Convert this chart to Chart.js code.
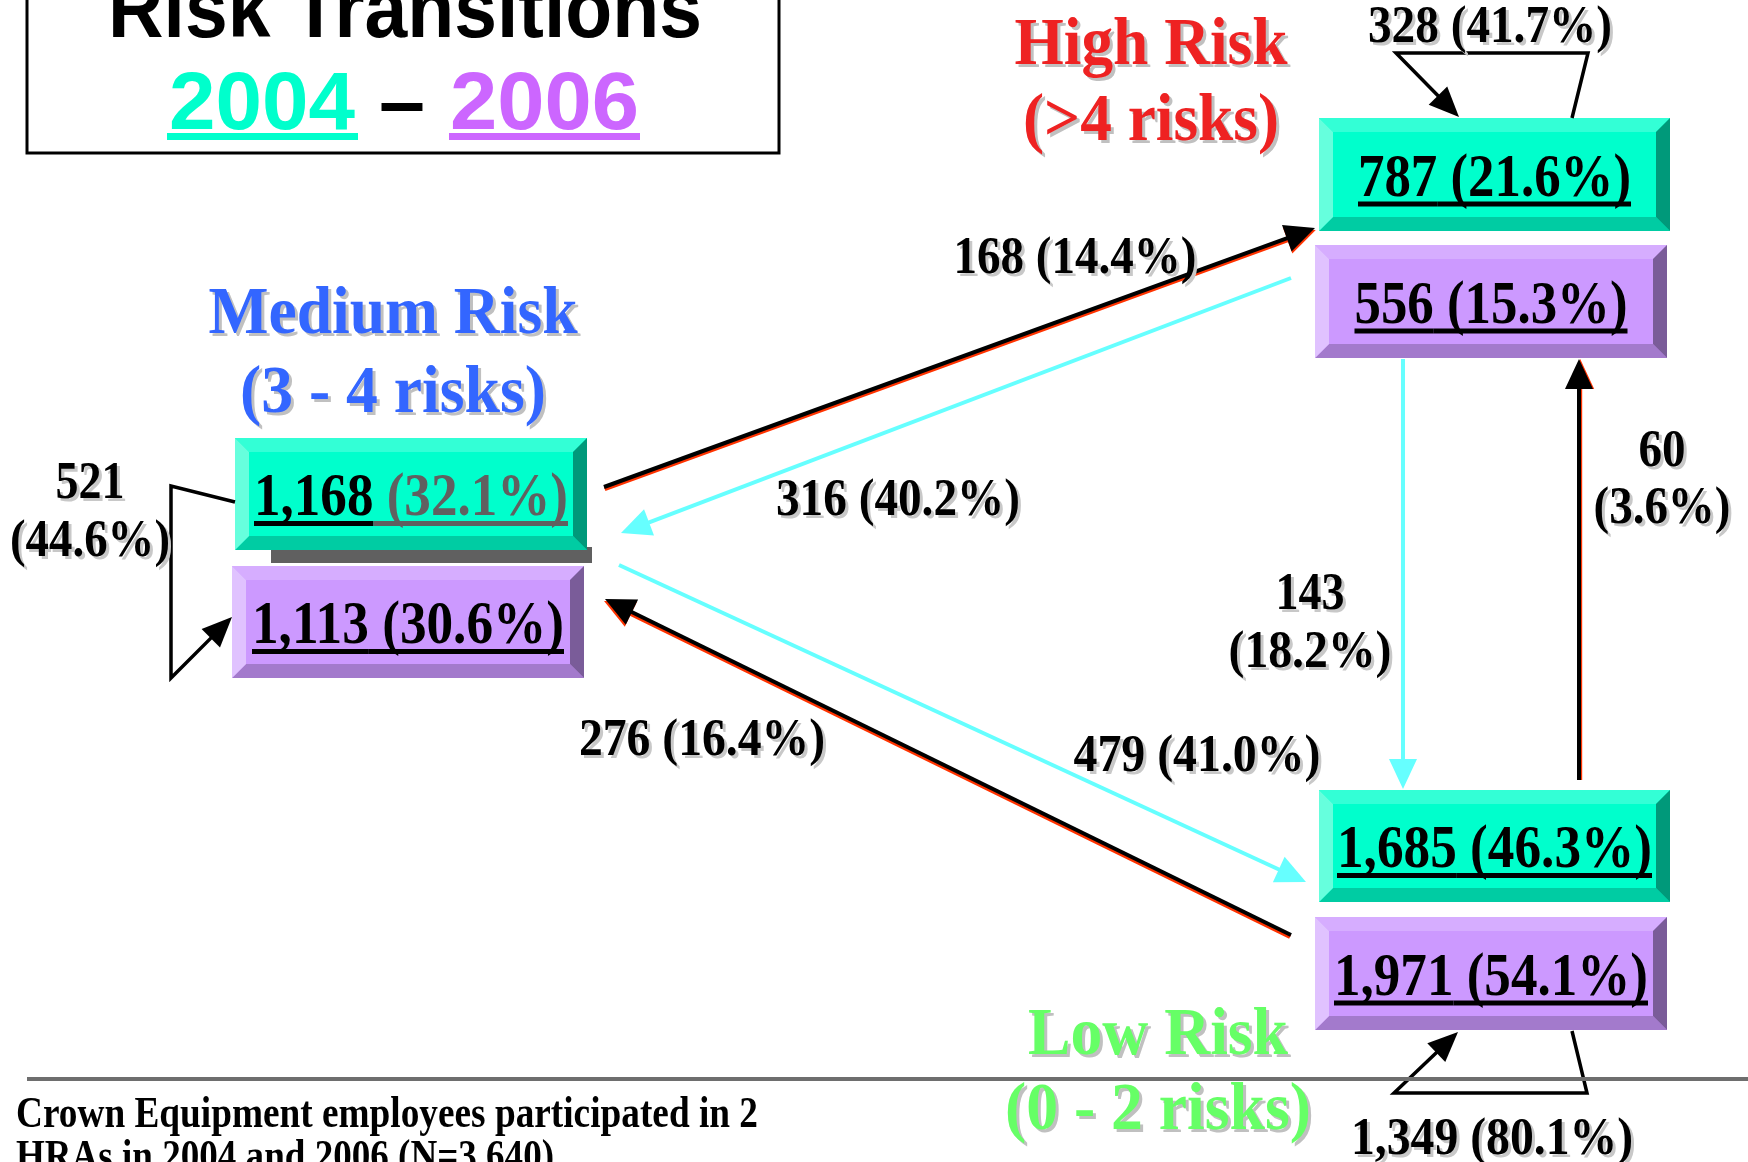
<!DOCTYPE html>
<html>
<head>
<meta charset="utf-8">
<script src="https://cdn.jsdelivr.net/npm/chart.js@4.4.1/dist/chart.umd.min.js"></script>
<style>
  html, body { margin: 0; padding: 0; background: #ffffff; overflow: hidden; }
  #wrap { width: 1748px; height: 1162px; }
</style>
</head>
<body>
<div id="wrap"><canvas id="c" width="1748" height="1162"></canvas></div>
<script>
// Risk groups and their member counts in each survey year
const groupNames  = ['High Risk', 'Medium Risk', 'Low Risk'];
const groupRanges = ['(>4 risks)', '(3 - 4 risks)', '(0 - 2 risks)'];
const surveyYears = ['2004', '2006'];
const counts2004  = [787, 1168, 1685];
const shares2004  = [21.6, 32.1, 46.3];
const counts2006  = [556, 1113, 1971];
const shares2006  = [15.3, 30.6, 54.1];

// Movements between groups: 2004 group -> 2006 group (share of the 2004 group)
const moveFrom   = [0, 0, 0, 1, 1, 1, 2, 2, 2];
const moveTo     = [0, 1, 2, 0, 1, 2, 0, 1, 2];
const moveCounts = [328, 316, 143, 168, 521, 479, 60, 276, 1349];
const moveShares = [41.7, 40.2, 18.2, 14.4, 44.6, 41.0, 3.6, 16.4, 80.1];

const pageTitle  = 'Risk Transitions';
const footNote   = ['Crown Equipment employees participated in 2', 'HRAs in 2004 and 2006 (N=3,640)'];
const pageNumber = '16';

// ---------- layout (drawing units = canvas pixels on a 1748 x 1162 plane) ----------
const PLANE_W = 1748, PLANE_H = 1162;
const SERIF = '"Liberation Serif", "Times New Roman", serif';
const SANS  = '"Liberation Sans", Arial, sans-serif';

// [left, top, right, bottom] for the 2004 box and the 2006 box of each group
const boxRects = [
  [[1319, 118, 1670, 231], [1315, 245, 1667, 358]],
  [[235, 438, 587, 550],   [232, 566, 584, 678]],
  [[1319, 790, 1670, 902], [1315, 917, 1667, 1030]]
];
const boxTextWidth = [[273, 273], [314, 312], [315, 314]];
const boxShareColor = [['#000000', '#000000'], ['#606060', '#000000'], ['#000000', '#000000']];
const yearPalette = [
  { face: '#00ffcc', top: '#33ffd6', left: '#66ffdd', right: '#00997a', bottom: '#00cca3' },
  { face: '#cc99ff', top: '#d6adff', left: '#e0c2ff', right: '#7a5c99', bottom: '#a37acc' }
];
const yearColor = ['#00ffcc', '#cc66ff'];

const groupLabel = [
  { x: 1151, y: [64, 140],   w: [273, 256], color: '#ee2222' },
  { x: 393,  y: [333, 412],  w: [369, 306], color: '#3366ff' },
  { x: 1158, y: [1054, 1129], w: [260, 306], color: '#66ff66' }
];

// route of every movement arrow and where its label sits
const moveRoute = [
  { kind: 'loop',  pts: [[1572, 118], [1588, 53], [1396, 53], [1459, 117]],   label: { x: 1490, y: [42],  w: [244] } },
  { kind: 'cyan',  pts: [[1291, 278], [621, 533]],                            label: { x: 898,  y: [515], w: [244] } },
  { kind: 'cyan',  pts: [[1403, 359], [1403, 789]],                           label: { x: 1310, y: [609, 667], w: [69, 163] } },
  { kind: 'black', pts: [[604, 487], [1315, 228]],                            label: { x: 1075, y: [273], w: [243] } },
  { kind: 'loop',  pts: [[235, 502], [171, 486], [171, 678], [232, 617]],    label: { x: 90,   y: [498, 556], w: [69, 160] } },
  { kind: 'cyan',  pts: [[619, 565], [1306, 882]],                            label: { x: 1197, y: [771], w: [247] } },
  { kind: 'black', pts: [[1579, 780], [1579, 359]],                           label: { x: 1662, y: [466, 523], w: [47, 137] } },
  { kind: 'black', pts: [[1291, 935], [605, 599]],                            label: { x: 702,  y: [755], w: [246] } },
  { kind: 'loop',  pts: [[1572, 1031], [1587, 1093], [1394, 1093], [1458, 1032]], label: { x: 1492, y: [1154], w: [282] } }
];

const fmtCount = n => n.toLocaleString('en-US');
const fmtShare = p => '(' + p.toFixed(1) + '%)';

// ---------- drawing helpers ----------
function fitText(ctx, str, x, y, size, width, o) {
  ctx.font = 'bold ' + size + 'px ' + (o.family || SERIF);
  const m = ctx.measureText(str).width;
  const sx = width ? width / m : 1;
  ctx.save();
  ctx.translate(x, y);
  ctx.scale(sx, 1);
  ctx.textAlign = o.align || 'center';
  ctx.textBaseline = 'alphabetic';
  if (o.shadow) {
    ctx.fillStyle = o.shadow;
    ctx.fillText(str, (o.sd || 3) / sx, o.sd || 3);
  }
  ctx.fillStyle = o.color || '#000';
  ctx.fillText(str, 0, 0);
  ctx.restore();
}

function poly(ctx, pts, fill) {
  ctx.beginPath();
  ctx.moveTo(pts[0][0], pts[0][1]);
  for (let i = 1; i < pts.length; i++) ctx.lineTo(pts[i][0], pts[i][1]);
  ctx.closePath();
  ctx.fillStyle = fill;
  ctx.fill();
}

function bevelBox(ctx, l, t, r, b, pal, bw) {
  ctx.fillStyle = pal.face;
  ctx.fillRect(l, t, r - l, b - t);
  poly(ctx, [[l, t], [r, t], [r - bw, t + bw], [l + bw, t + bw]], pal.top);
  poly(ctx, [[l, b], [r, b], [r - bw, b - bw], [l + bw, b - bw]], pal.bottom);
  poly(ctx, [[l, t], [l + bw, t + bw], [l + bw, b - bw], [l, b]], pal.left);
  poly(ctx, [[r, t], [r - bw, t + bw], [r - bw, b - bw], [r, b]], pal.right);
}

function head(ctx, tip, from, len, half, color) {
  const dx = tip[0] - from[0], dy = tip[1] - from[1];
  const d = Math.hypot(dx, dy), ux = dx / d, uy = dy / d;
  const bx = tip[0] - ux * len, by = tip[1] - uy * len;
  poly(ctx, [tip, [bx - uy * half, by + ux * half], [bx + uy * half, by - ux * half]], color);
}

function segLine(ctx, pts, color, width) {
  ctx.beginPath();
  ctx.moveTo(pts[0][0], pts[0][1]);
  for (let i = 1; i < pts.length; i++) ctx.lineTo(pts[i][0], pts[i][1]);
  ctx.strokeStyle = color;
  ctx.lineWidth = width;
  ctx.lineJoin = 'miter';
  ctx.lineCap = 'butt';
  ctx.stroke();
}

function straightArrow(ctx, a, b, color, width, len, half, edge) {
  const dx = b[0] - a[0], dy = b[1] - a[1];
  const d = Math.hypot(dx, dy), ux = dx / d, uy = dy / d;
  const end = [b[0] - ux * (len - 2), b[1] - uy * (len - 2)];
  if (edge) {
    // thin red rim running along the lower side of the dark arrows
    let px = -uy, py = ux;
    if (py < 0 || (py === 0 && px < 0)) { px = -px; py = -py; }
    const o = dy === 0 || dx === 0 ? 1.2 : 2.2;
    segLine(ctx, [[a[0] + px * o, a[1] + py * o], [end[0] + px * o, end[1] + py * o]], edge, width);
    head(ctx, [b[0] + px * o, b[1] + py * o], [a[0] + px * o, a[1] + py * o], len, half, edge);
  }
  segLine(ctx, [a, end], color, width);
  head(ctx, b, a, len, half, color);
}

// ---------- diagram plugin: everything is placed through the chart scales ----------
const transitionDiagram = {
  id: 'transitionDiagram',
  beforeDraw(chart) {
    const ctx = chart.ctx;
    ctx.save();
    ctx.fillStyle = '#ffffff';
    ctx.fillRect(0, 0, chart.width, chart.height);
    ctx.restore();
  },
  afterDraw(chart) {
    const ctx = chart.ctx;
    const sx = chart.scales.x, sy = chart.scales.y;
    const X = v => sx.getPixelForValue(v);
    const Y = v => sy.getPixelForValue(v);
    const P = p => [X(p[0]), Y(p[1])];
    ctx.save();

    // title frame
    ctx.strokeStyle = '#000';
    ctx.lineWidth = 3;
    ctx.strokeRect(X(27), Y(-10), X(779) - X(27), Y(153) - Y(-10));
    fitText(ctx, pageTitle, X(405), Y(37), 84, 594, { family: SANS, color: '#000' });
    // year span "2004 – 2006"
    fitText(ctx, surveyYears[0], X(169), Y(129), 82, 186, { family: SANS, align: 'left', color: yearColor[0] });
    fitText(ctx, '\u2013', X(402), Y(129), 82, 46, { family: SANS, color: '#000' });
    fitText(ctx, surveyYears[1], X(450), Y(129), 82, 189, { family: SANS, align: 'left', color: yearColor[1] });
    ctx.fillStyle = yearColor[0];
    ctx.fillRect(X(167), Y(133), X(358) - X(167), 7);
    ctx.fillStyle = yearColor[1];
    ctx.fillRect(X(449), Y(133), X(640) - X(449), 7);

    // shadow strip under the 2004 medium box
    ctx.fillStyle = '#606060';
    ctx.fillRect(X(271), Y(547), X(592) - X(271), Y(563) - Y(547));

    // group boxes
    const counts = [counts2004, counts2006];
    const shares = [shares2004, shares2006];
    for (let g = 0; g < groupNames.length; g++) {
      for (let yi = 0; yi < surveyYears.length; yi++) {
        const r = boxRects[g][yi];
        const l = X(r[0]), t = Y(r[1]), rr = X(r[2]), b = Y(r[3]);
        bevelBox(ctx, l, t, rr, b, yearPalette[yi], 14);
        const cText = fmtCount(counts[yi][g]);
        const sText = ' ' + fmtShare(shares[yi][g]);
        ctx.font = 'bold 61px ' + SERIF;
        const w1 = ctx.measureText(cText).width, w2 = ctx.measureText(sText).width;
        const k = boxTextWidth[g][yi] / (w1 + w2);
        const cx = (l + rr) / 2, base = (t + b) / 2 + 21;
        const x0 = cx - (w1 + w2) * k / 2;
        ctx.save();
        ctx.translate(x0, base);
        ctx.scale(k, 1);
        ctx.textAlign = 'left';
        ctx.fillStyle = '#000';
        ctx.fillText(cText, 0, 0);
        ctx.fillStyle = boxShareColor[g][yi];
        ctx.fillText(sText, w1, 0);
        ctx.restore();
        ctx.fillStyle = '#000';
        ctx.fillRect(x0, base + 6, w1 * k, 5);
        ctx.fillStyle = boxShareColor[g][yi];
        ctx.fillRect(x0 + w1 * k, base + 6, w2 * k, 5);
      }
    }

    // movement arrows
    for (let i = 0; i < moveCounts.length; i++) {
      const rt = moveRoute[i];
      const pts = rt.pts.map(P);
      if (rt.kind === 'loop') {
        const n = pts.length;
        const last = pts[n - 1], prev = pts[n - 2];
        const dx = last[0] - prev[0], dy = last[1] - prev[1], d = Math.hypot(dx, dy);
        const stop = [last[0] - dx / d * 26, last[1] - dy / d * 26];
        segLine(ctx, pts.slice(0, n - 1).concat([stop]), '#000', 3.5);
        head(ctx, last, prev, 30, 13, '#000');
      } else if (rt.kind === 'cyan') {
        straightArrow(ctx, pts[0], pts[1], '#66ffff', 4, 30, 14, null);
      } else {
        straightArrow(ctx, pts[0], pts[1], '#000000', 4, 30, 14, '#ff3300');
      }
    }

    // movement labels
    for (let i = 0; i < moveCounts.length; i++) {
      const lb = moveRoute[i].label;
      const c = fmtCount(moveCounts[i]), s = fmtShare(moveShares[i]);
      const lines = lb.y.length === 1 ? [c + ' ' + s] : [c, s];
      lines.forEach((str, j) => {
        fitText(ctx, str, X(lb.x), Y(lb.y[j]), 52, lb.w[j], { color: '#000', shadow: '#c8c8c8', sd: 3 });
      });
    }

    // group names
    for (let g = 0; g < groupNames.length; g++) {
      const gl = groupLabel[g];
      fitText(ctx, groupNames[g], X(gl.x), Y(gl.y[0]), 68, gl.w[0], { color: gl.color, shadow: '#c0c0c0', sd: 3 });
      fitText(ctx, groupRanges[g], X(gl.x), Y(gl.y[1]), 68, gl.w[1], { color: gl.color, shadow: '#c0c0c0', sd: 3 });
    }

    // footer rule, note and page number
    ctx.fillStyle = '#6e6e6e';
    ctx.fillRect(X(27), Y(1077), X(1748) - X(27), 4);
    fitText(ctx, footNote[0], X(16), Y(1127), 44, 742, { align: 'left', color: '#000' });
    fitText(ctx, footNote[1], X(16), Y(1170), 44, 538, { align: 'left', color: '#000' });
    ctx.font = '26px ' + SANS;
    ctx.fillStyle = '#333';
    ctx.textAlign = 'left';
    ctx.fillText(pageNumber, X(1709), Y(1182));

    ctx.restore();
  }
};

new Chart(document.getElementById('c'), {
  type: 'scatter',
  data: { datasets: [] },
  options: {
    responsive: false,
    animation: false,
    devicePixelRatio: 1,
    layout: { padding: 0 },
    plugins: { legend: { display: false }, tooltip: { enabled: false }, title: { display: false } },
    scales: {
      x: { type: 'linear', min: 0, max: PLANE_W, display: false },
      y: { type: 'linear', min: 0, max: PLANE_H, reverse: true, display: false }
    }
  },
  plugins: [transitionDiagram]
});
</script>
</body>
</html>
